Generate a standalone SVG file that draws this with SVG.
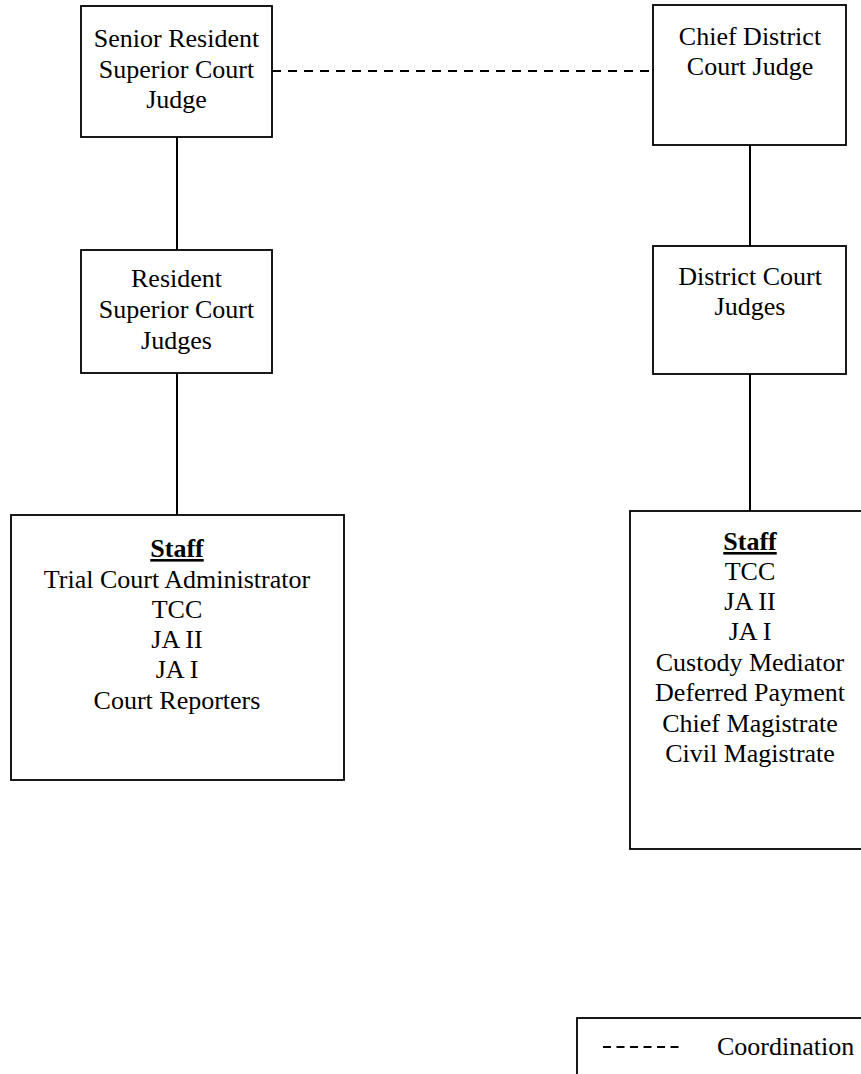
<svg xmlns="http://www.w3.org/2000/svg" width="861" height="1074" viewBox="0 0 861 1074">
<style>
.box{fill:#fff;stroke:#000;stroke-width:1.8}
.t{font-family:"Liberation Serif","Times New Roman",serif;font-size:26px;fill:#000;text-anchor:middle}
.h{font-weight:bold;text-decoration:underline}
.ln{stroke:#000;stroke-width:2;fill:none}
.dash{stroke:#000;stroke-width:1.8;fill:none;stroke-dasharray:9 7}
</style>
<rect width="861" height="1074" fill="#fff"/>
<g id="connectors">
<line class="dash" x1="272" y1="71" x2="653" y2="71"/>
<line class="ln" x1="177" y1="137" x2="177" y2="250"/>
<line class="ln" x1="177" y1="373" x2="177" y2="515"/>
<line class="ln" x1="750" y1="145" x2="750" y2="246"/>
<line class="ln" x1="750" y1="374" x2="750" y2="511"/>
</g>
<g id="senior-resident">
<rect class="box" x="81" y="6" width="191" height="131"/>
<text class="t" x="176.5" y="47">Senior Resident</text>
<text class="t" x="176.5" y="78">Superior Court</text>
<text class="t" x="176.5" y="108">Judge</text>
</g>
<g id="chief-district">
<rect class="box" x="653" y="5" width="193" height="140"/>
<text class="t" x="750" y="45">Chief District</text>
<text class="t" x="750" y="75">Court Judge</text>
</g>
<g id="resident-superior">
<rect class="box" x="81" y="250" width="191" height="123"/>
<text class="t" x="176.5" y="287">Resident</text>
<text class="t" x="176.5" y="318">Superior Court</text>
<text class="t" x="176.5" y="349">Judges</text>
</g>
<g id="district-judges">
<rect class="box" x="653" y="246" width="193" height="128"/>
<text class="t" x="750" y="285">District Court</text>
<text class="t" x="750" y="315">Judges</text>
</g>
<g id="superior-staff">
<rect class="box" x="11" y="515" width="333" height="265"/>
<text class="t h" x="177" y="557">Staff</text>
<text class="t" x="177" y="588">Trial Court Administrator</text>
<text class="t" x="177" y="618">TCC</text>
<text class="t" x="177" y="648">JA II</text>
<text class="t" x="177" y="678">JA I</text>
<text class="t" x="177" y="709">Court Reporters</text>
</g>
<g id="district-staff">
<rect class="box" x="630" y="511" width="260" height="338"/>
<text class="t h" x="750" y="550">Staff</text>
<text class="t" x="750" y="580">TCC</text>
<text class="t" x="750" y="610">JA II</text>
<text class="t" x="750" y="640">JA I</text>
<text class="t" x="750" y="671">Custody Mediator</text>
<text class="t" x="750" y="701">Deferred Payment</text>
<text class="t" x="750" y="732">Chief Magistrate</text>
<text class="t" x="750" y="762">Civil Magistrate</text>
</g>
<g id="legend">
<rect class="box" x="577" y="1018" width="300" height="80"/>
<line stroke="#000" stroke-width="1.8" stroke-dasharray="8 5.5" x1="603" y1="1047" x2="679" y2="1047"/>
<text class="t" x="717" y="1055" style="text-anchor:start">Coordination</text>
</g>
</svg>
